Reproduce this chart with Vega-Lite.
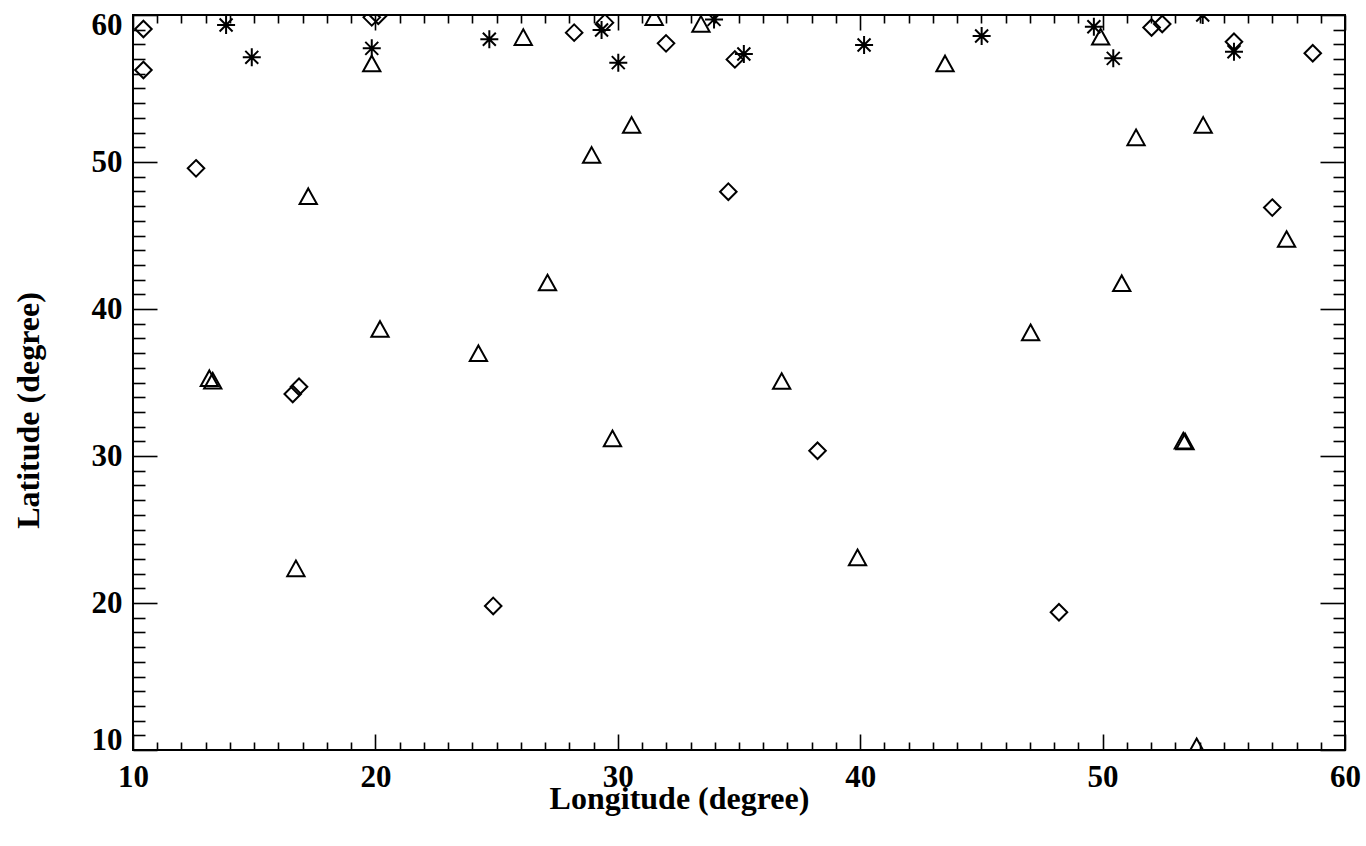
{
  "$schema": "https://vega.github.io/schema/vega-lite/v6.json",
  "width": 1212,
  "height": 735,
  "autosize": {"type": "none"},
  "padding": {"left": 133, "top": 15, "right": 21, "bottom": 96},
  "background": "white",
  "config": {
    "view": {"stroke": "black", "strokeWidth": 2},
    "axis": {
      "grid": false,
      "domain": false,
      "labelFont": "Liberation Serif",
      "labelFontWeight": "bold",
      "labelFontSize": 31,
      "labelColor": "black",
      "labelOverlap": false,
      "labelBound": false,
      "labelFlush": false,
      "titleFont": "Liberation Serif",
      "titleFontWeight": "bold",
      "titleFontSize": 32,
      "titleColor": "black",
      "tickColor": "black",
      "tickWidth": 1.6
    }
  },
  "data": {
    "values": [
      {"series": "diamond", "lon": 10.43, "lat": 59.05},
      {"series": "diamond", "lon": 10.43, "lat": 56.26},
      {"series": "diamond", "lon": 19.85, "lat": 59.84},
      {"series": "diamond", "lon": 20.12, "lat": 59.95},
      {"series": "diamond", "lon": 28.2, "lat": 58.8},
      {"series": "diamond", "lon": 29.47, "lat": 59.48},
      {"series": "diamond", "lon": 31.99, "lat": 58.07},
      {"series": "diamond", "lon": 34.83, "lat": 56.98},
      {"series": "diamond", "lon": 52.02, "lat": 59.15},
      {"series": "diamond", "lon": 52.46, "lat": 59.39},
      {"series": "diamond", "lon": 55.42, "lat": 58.18},
      {"series": "diamond", "lon": 58.67, "lat": 57.4},
      {"series": "diamond", "lon": 12.6, "lat": 49.57},
      {"series": "diamond", "lon": 16.59, "lat": 34.22},
      {"series": "diamond", "lon": 16.85, "lat": 34.71},
      {"series": "diamond", "lon": 24.86, "lat": 19.8},
      {"series": "diamond", "lon": 34.56, "lat": 47.98},
      {"series": "diamond", "lon": 38.24, "lat": 30.36},
      {"series": "diamond", "lon": 57.0, "lat": 46.9},
      {"series": "diamond", "lon": 48.2, "lat": 19.37},
      {"series": "triangle", "lon": 19.85, "lat": 56.7},
      {"series": "triangle", "lon": 26.1, "lat": 58.5},
      {"series": "triangle", "lon": 31.5, "lat": 59.86},
      {"series": "triangle", "lon": 33.43, "lat": 59.39},
      {"series": "triangle", "lon": 43.5, "lat": 56.7},
      {"series": "triangle", "lon": 49.92, "lat": 58.52},
      {"series": "triangle", "lon": 17.23, "lat": 47.67},
      {"series": "triangle", "lon": 27.1, "lat": 41.8},
      {"series": "triangle", "lon": 20.19, "lat": 38.64},
      {"series": "triangle", "lon": 24.25, "lat": 36.99},
      {"series": "triangle", "lon": 13.15, "lat": 35.29},
      {"series": "triangle", "lon": 13.29, "lat": 35.12},
      {"series": "triangle", "lon": 16.72, "lat": 22.36},
      {"series": "triangle", "lon": 30.57, "lat": 52.52},
      {"series": "triangle", "lon": 28.92, "lat": 50.48},
      {"series": "triangle", "lon": 36.76, "lat": 35.1},
      {"series": "triangle", "lon": 29.78, "lat": 31.2},
      {"series": "triangle", "lon": 39.89, "lat": 23.1},
      {"series": "triangle", "lon": 54.15, "lat": 52.52},
      {"series": "triangle", "lon": 51.38, "lat": 51.68},
      {"series": "triangle", "lon": 57.59, "lat": 44.76},
      {"series": "triangle", "lon": 50.79, "lat": 41.75},
      {"series": "triangle", "lon": 47.03, "lat": 38.41},
      {"series": "triangle", "lon": 53.33, "lat": 31.04},
      {"series": "triangle", "lon": 53.4, "lat": 31.0},
      {"series": "triangle", "lon": 53.88, "lat": 10.25},
      {"series": "asterisk", "lon": 13.84, "lat": 59.32},
      {"series": "asterisk", "lon": 14.9, "lat": 57.12},
      {"series": "asterisk", "lon": 19.85, "lat": 57.73},
      {"series": "asterisk", "lon": 24.7, "lat": 58.35},
      {"series": "asterisk", "lon": 29.33, "lat": 58.98},
      {"series": "asterisk", "lon": 30.02, "lat": 56.76},
      {"series": "asterisk", "lon": 33.97, "lat": 59.7},
      {"series": "asterisk", "lon": 35.2, "lat": 57.35},
      {"series": "asterisk", "lon": 40.16, "lat": 57.96},
      {"series": "asterisk", "lon": 45.01, "lat": 58.57},
      {"series": "asterisk", "lon": 49.64, "lat": 59.2},
      {"series": "asterisk", "lon": 50.44, "lat": 57.05},
      {"series": "asterisk", "lon": 54.13, "lat": 60.0},
      {"series": "asterisk", "lon": 55.42, "lat": 57.5}
    ]
  },
  "layer": [
    {
      "transform": [{"filter": "datum.series === 'diamond'"}],
      "mark": {"type": "point", "shape": "M0,-0.92L0.92,0L0,0.92L-0.92,0Z", "filled": false, "stroke": "black", "strokeWidth": 2, "size": 324, "opacity": 1, "clip": true},
      "encoding": {
        "x": {
          "field": "lon", "type": "quantitative",
          "scale": {"domain": [10, 60], "nice": false, "zero": false},
          "axis": {
            "orient": "bottom",
            "values": [10, 20, 30, 40, 50, 60],
            "ticks": false,
            "labelFlush": false,
            "labelPadding": 12,
            "title": "Longitude (degree)",
            "titleX": 546,
            "titleY": 58,
            "titleAlign": "center",
            "titleBaseline": "alphabetic"
          }
        },
        "y": {
          "field": "lat", "type": "quantitative",
          "scale": {"domain": [10, 60], "nice": false, "zero": false},
          "axis": {
            "orient": "left",
            "values": [10, 20, 30, 40, 50, 60],
            "ticks": false,
            "labelPadding": 11,
            "labelOffset": {"condition": [{"test": "datum.value === 60", "value": 10}, {"test": "datum.value === 10", "value": -10}], "value": 0},
            "title": "Latitude (degree)",
            "titleX": -95,
            "titleY": 395,
            "titleAngle": 270,
            "titleAlign": "center",
            "titleBaseline": "alphabetic"
          }
        }
      }
    },
    {
      "transform": [{"filter": "datum.series === 'triangle'"}],
      "mark": {"type": "point", "shape": "M0,-0.87L0.96,0.87L-0.96,0.87Z", "filled": false, "stroke": "black", "strokeWidth": 2, "size": 324, "opacity": 1, "clip": true},
      "encoding": {
        "x": {
          "field": "lon", "type": "quantitative",
          "scale": {"domain": [10, 60], "nice": false, "zero": false},
          "axis": {
            "orient": "bottom",
            "values": [10,11,12,13,14,15,16,17,18,19,20,21,22,23,24,25,26,27,28,29,30,31,32,33,34,35,36,37,38,39,40,41,42,43,44,45,46,47,48,49,50,51,52,53,54,55,56,57,58,59,60],
            "labels": false,
            "title": null,
            "tickSize": {"condition": {"test": "datum.value % 10 === 0", "value": -16}, "value": -8}
          }
        },
        "y": {
          "field": "lat", "type": "quantitative",
          "scale": {"domain": [10, 60], "nice": false, "zero": false},
          "axis": {
            "orient": "left",
            "values": [10,11,12,13,14,15,16,17,18,19,20,21,22,23,24,25,26,27,28,29,30,31,32,33,34,35,36,37,38,39,40,41,42,43,44,45,46,47,48,49,50,51,52,53,54,55,56,57,58,59,60],
            "labels": false,
            "title": null,
            "tickSize": {"condition": {"test": "datum.value % 10 === 0", "value": -24}, "value": -12}
          }
        }
      }
    },
    {
      "transform": [{"filter": "datum.series === 'asterisk'"}],
      "mark": {"type": "point", "shape": "M-1,0L1,0M0,-1L0,1M-0.72,-0.72L0.72,0.72M-0.72,0.72L0.72,-0.72", "filled": false, "stroke": "black", "strokeWidth": 2, "size": 324, "opacity": 1, "clip": true},
      "encoding": {
        "x": {
          "field": "lon", "type": "quantitative",
          "scale": {"domain": [10, 60], "nice": false, "zero": false},
          "axis": {
            "orient": "top",
            "values": [10,11,12,13,14,15,16,17,18,19,20,21,22,23,24,25,26,27,28,29,30,31,32,33,34,35,36,37,38,39,40,41,42,43,44,45,46,47,48,49,50,51,52,53,54,55,56,57,58,59,60],
            "labels": false,
            "title": null,
            "tickSize": {"condition": {"test": "datum.value % 10 === 0", "value": -15}, "value": -8}
          }
        },
        "y": {
          "field": "lat", "type": "quantitative",
          "scale": {"domain": [10, 60], "nice": false, "zero": false},
          "axis": {
            "orient": "right",
            "values": [10,11,12,13,14,15,16,17,18,19,20,21,22,23,24,25,26,27,28,29,30,31,32,33,34,35,36,37,38,39,40,41,42,43,44,45,46,47,48,49,50,51,52,53,54,55,56,57,58,59,60],
            "labels": false,
            "title": null,
            "tickSize": {"condition": {"test": "datum.value % 10 === 0", "value": -25}, "value": -12}
          }
        }
      }
    }
  ],
  "resolve": {"axis": {"x": "independent", "y": "independent"}}
}
